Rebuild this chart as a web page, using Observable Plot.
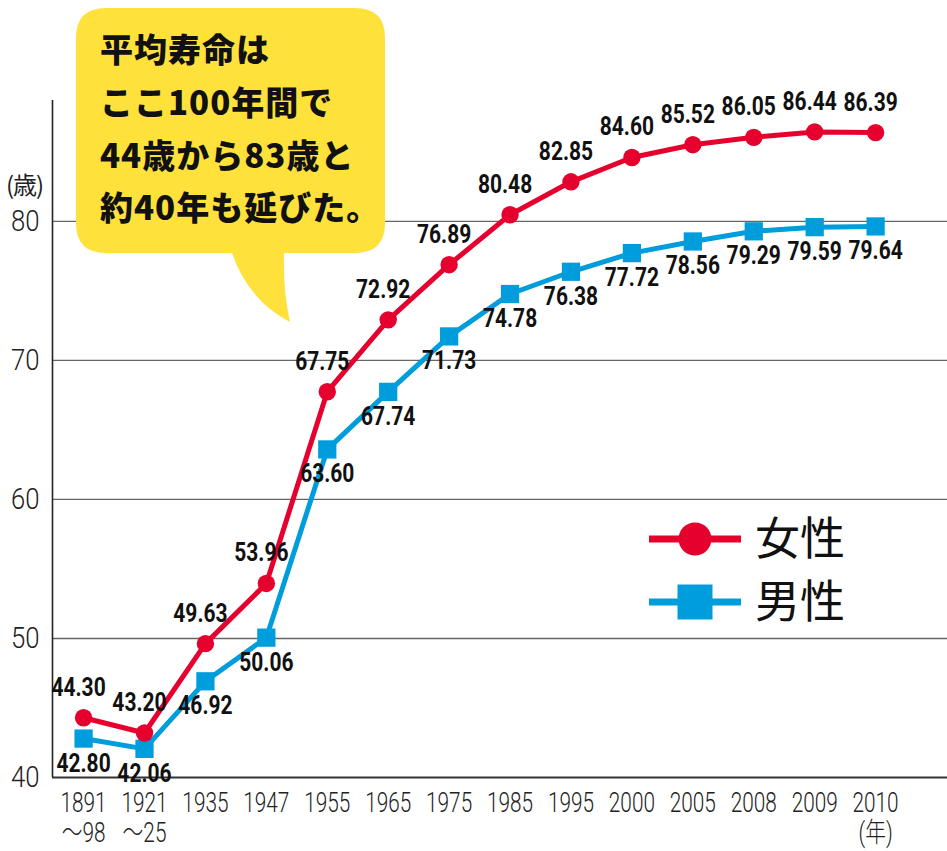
<!DOCTYPE html>
<html><head><meta charset="utf-8">
<script src="https://cdn.jsdelivr.net/npm/d3@7"></script>
<script src="https://cdn.jsdelivr.net/npm/@observablehq/plot@0.6"></script>
<style>
body{margin:0;background:#fff;}
#wrap{position:relative;width:947px;height:851px;overflow:hidden;background:#fff;}
#chart svg{position:absolute;left:0;top:0;}
.ov{position:absolute;left:0;top:0;}
</style></head>
<body><div id="wrap"><div id="chart"></div></div>
<script>
// ---- data ----
const yearLabels = ["1891\n～98","1921\n～25","1935","1947","1955","1965","1975","1985","1995","2000","2005","2008","2009","2010\n(年)"];
const female = [44.30,43.20,49.63,53.96,67.75,72.92,76.89,80.48,82.85,84.60,85.52,86.05,86.44,86.39];
const male   = [42.80,42.06,46.92,50.06,63.60,67.74,71.73,74.78,76.38,77.72,78.56,79.29,79.59,79.64];
const yTicks = [40,50,60,70,80];
const gridValues = [50,60,70,80];
const seriesNames = ["女性","男性"];
const yUnit = "(歳)";
const calloutLines = ["平均寿命は","ここ100年間で","44歳から83歳と","約40年も延びた。"];

// ---- styles ----
const RED = "#E6002D", BLUE = "#009DDC", YELLOW = "#FFE13B";
const NUMF = "Roboto,'Noto Sans CJK JP',sans-serif";
const CJK = "'Noto Sans CJK JP','Noto Sans',sans-serif";

const idx = d3.range(yearLabels.length);
const fData = idx.map(i => ({i, v: female[i]}));
const mData = idx.map(i => ({i, v: male[i]}));
const xMin = -0.51, xMax = 14.18;
const fmt = d3.format(".2f");

const plot = Plot.plot({
  width: 947, height: 851,
  marginLeft: 52, marginRight: 0, marginTop: 100, marginBottom: 74,
  x: {domain: [xMin, xMax]},
  y: {domain: [40, 88.7]},
  style: {fontFamily: NUMF, background: "transparent", color: "#222"},
  marks: [
    Plot.ruleY(gridValues, {stroke: "#666", strokeWidth: 1.3}),
    Plot.ruleY([40], {stroke: "#333", strokeWidth: 2}),
    Plot.ruleX([xMin], {stroke: "#222", strokeWidth: 1.6}),
    Plot.axisY({ticks: yTicks, tickSize: 0, tickPadding: 13, fontSize: 30, fontWeight: 300, label: null, color: "#222"}),
    Plot.axisX({ticks: idx, tickFormat: i => yearLabels[i], tickSize: 0, tickPadding: 13, fontSize: 27, fontWeight: 300, lineHeight: 1.12, label: null, color: "#222"}),
    Plot.line(mData, {x: "i", y: "v", stroke: BLUE, strokeWidth: 5}),
    Plot.dot(mData, {x: "i", y: "v", symbol: "square", r: 10.3, fill: BLUE}),
    Plot.line(fData, {x: "i", y: "v", stroke: RED, strokeWidth: 5}),
    Plot.dot(fData, {x: "i", y: "v", r: 8.7, fill: RED}),
    Plot.text(fData, {x: "i", y: "v", text: d => fmt(d.v), dx: -5, dy: -30, fontSize: 25, fontWeight: "bold", fill: "#111"}),
    Plot.text(mData, {x: "i", y: "v", text: d => fmt(d.v), dx: 0, dy: 25, fontSize: 25, fontWeight: "bold", fill: "#111"})
  ]
});
document.getElementById("chart").appendChild(plot);

// horizontally condense the numeric texts (the reference uses a condensed face)
function condense(label, s) {
  plot.querySelectorAll(`g[aria-label="${label}"] text`).forEach(t => {
    const tr = t.getAttribute("transform");
    if (tr) t.setAttribute("transform", tr + ` scale(${s},1)`);
    else {
      const x = +t.getAttribute("x") || 0, y = +t.getAttribute("y") || 0;
      t.removeAttribute("x"); t.removeAttribute("y");
      t.setAttribute("transform", `translate(${x},${y}) scale(${s},1)`);
    }
  });
}
condense("y-axis tick label", 0.86);
condense("x-axis tick label", 0.77);
condense("text", 0.84);

const wrap = d3.select("#wrap");

// y unit label
wrap.append("div").attr("class", "ov")
  .style("left", "6px").style("top", "166px")
  .style("font-family", CJK).style("font-size", "24px").style("color", "#222")
  .style("letter-spacing", "-1px")
  .text(yUnit);

// callout bubble
const ov = wrap.append("svg").attr("class", "ov").attr("width", 947).attr("height", 851)
  .style("pointer-events", "none");
ov.append("path")
  .attr("d", "M106,8 H355 Q385,8 385,38 V223 Q385,253 355,253 H284 Q283,292 290,322 Q248,300 232,253 H106 Q76,253 76,223 V38 Q76,8 106,8 Z")
  .attr("fill", YELLOW);
const lineYs = [48, 101, 154, 206];
ov.selectAll("text.c").data(calloutLines).join("text").attr("class", "c")
  .attr("x", 100).attr("y", (d, i) => lineYs[i])
  .attr("dominant-baseline", "central")
  .attr("font-family", CJK).attr("font-weight", 900).attr("font-size", 33)
  .attr("letter-spacing", 1)
  .attr("fill", "#111").text(d => d);

// legend
const lg = [{name: seriesNames[0], color: RED, y: 539, shape: "circle"},
            {name: seriesNames[1], color: BLUE, y: 602, shape: "square"}];
lg.forEach(d => {
  ov.append("line").attr("x1", 649).attr("x2", 741).attr("y1", d.y).attr("y2", d.y)
    .attr("stroke", d.color).attr("stroke-width", 7);
  if (d.shape === "circle") ov.append("circle").attr("cx", 695).attr("cy", d.y).attr("r", 16.5).attr("fill", d.color);
  else ov.append("rect").attr("x", 677.5).attr("y", d.y - 17.5).attr("width", 35).attr("height", 35).attr("fill", d.color);
  ov.append("text").attr("x", 755).attr("y", d.y - 4).attr("dominant-baseline", "central")
    .attr("font-family", CJK).attr("font-size", 45).attr("fill", "#111").text(d.name);
});
</script>
</body></html>
